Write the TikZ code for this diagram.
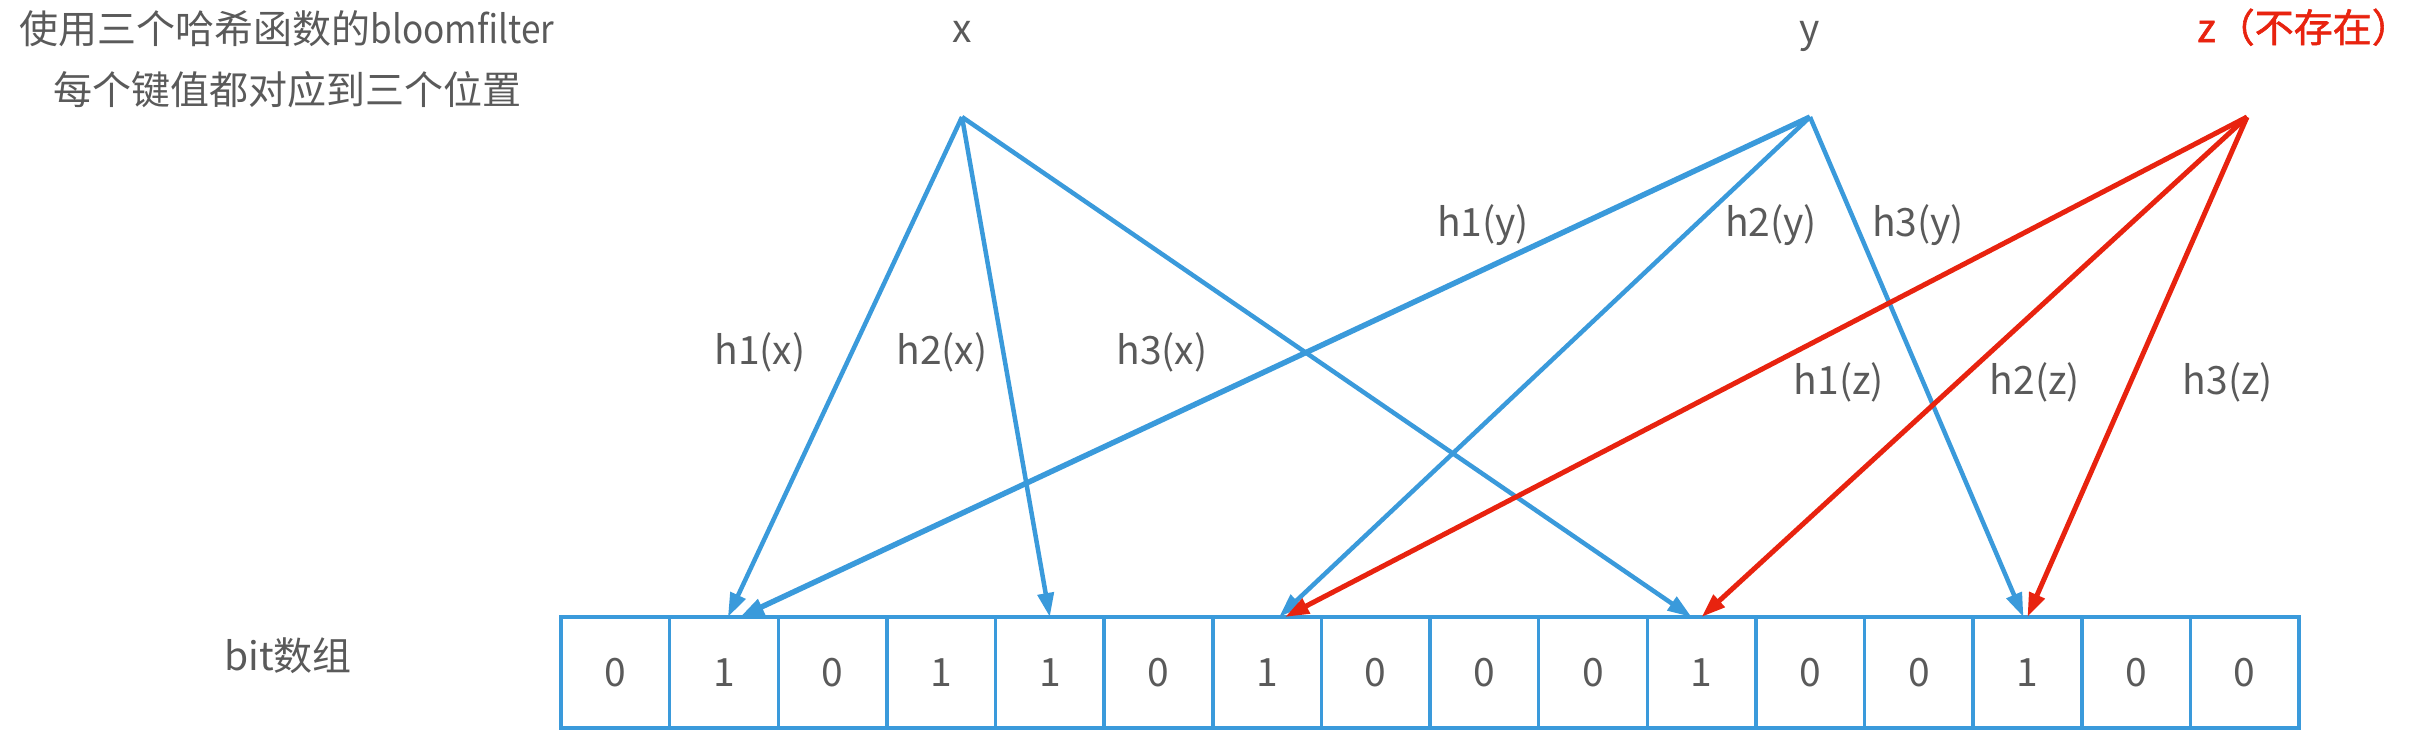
\documentclass[tikz,border=0pt]{standalone}
\usepackage{fontspec}
\setmainfont{Noto Sans CJK SC}
\usetikzlibrary{arrows.meta}
\definecolor{tgray}{HTML}{5A5A5A}
\definecolor{lblue}{HTML}{3A9ADB}
\definecolor{lred}{HTML}{E8230F}
\begin{document}
\begin{tikzpicture}[x=1pt,y=-1pt,
  txt/.style={font=\fontsize{39}{47}\selectfont, text=tgray, inner sep=0pt, outer sep=0pt},
  cell/.style={draw=lblue, line width=3.5pt, minimum width=108.625pt, minimum height=111pt,
    inner sep=0pt, outer sep=0pt, font=\fontsize{39}{47}\selectfont, text=tgray, anchor=north west},
  barrow/.style={draw=lblue, line width=4.5pt, -{Triangle[length=24pt,width=16pt]}},
  rarrow/.style={draw=lred, line width=5pt, -{Triangle[length=24pt,width=16pt]}}]
\useasboundingbox (0,0) rectangle (2413,742);
% titles
\node[txt, anchor=base] (t1) at (287,43) {使用三个哈希函数的\addfontfeature{FakeStretch=0.9}bloomfilter};
\node[txt, anchor=base] (t2) at (287,104) {每个键值都对应到三个位置};
\node[txt, anchor=base] (bit) at (288,670) {bit数组};
% keys
\node[txt, anchor=base] (kx) at (962,42) {x};
\node[txt, anchor=base] (ky) at (1810,42) {y};
\node[txt, anchor=base, text=lred, font=\fontsize{39}{47}\selectfont\addfontfeature{FakeBold=1.5}] (kz) at (2304,42) {z（不存在）};
\coordinate (xs) at (962,117);
\coordinate (ys) at (1810,117);
\coordinate (zs) at (2247,117);
% cells
\foreach \v [count=\i] in {0,1,0,1,1,0,1,0,0,0,1,0,0,1,0,0}
  \node[cell] (c\i) at ({561+(\i-1)*108.625},617) {\v};
% x arrows
\draw[barrow] (xs) -- ([xshift=4pt]c2.north);
\draw[barrow] (xs) -- (c5.north);
\draw[barrow] (xs) -- ([xshift=-10pt]c11.north);
% y arrows
\draw[barrow, line width=5.5pt] (ys) -- ([xshift=16pt]c2.north);
\draw[barrow] (ys) -- ([xshift=12pt]c7.north);
\draw[barrow] (ys) -- ([xshift=-4pt]c14.north);
% z arrows
\draw[rarrow] (zs) -- ([xshift=18pt]c7.north);
\draw[rarrow] (zs) -- (c11.north);
\draw[rarrow] (zs) -- (c14.north);
% labels
\node[txt] (l1x) at (760,352) {h1(x)};
\node[txt] (l2x) at (942,352) {h2(x)};
\node[txt] (l3x) at (1162,352) {h3(x)};
\node[txt] (l1y) at (1483,225) {h1(y)};
\node[txt] (l2y) at (1771,225) {h2(y)};
\node[txt] (l3y) at (1918,225) {h3(y)};
\node[txt] (l1z) at (1839,382) {h1(z)};
\node[txt] (l2z) at (2035,382) {h2(z)};
\node[txt] (l3z) at (2228,382) {h3(z)};
\end{tikzpicture}
\end{document}
